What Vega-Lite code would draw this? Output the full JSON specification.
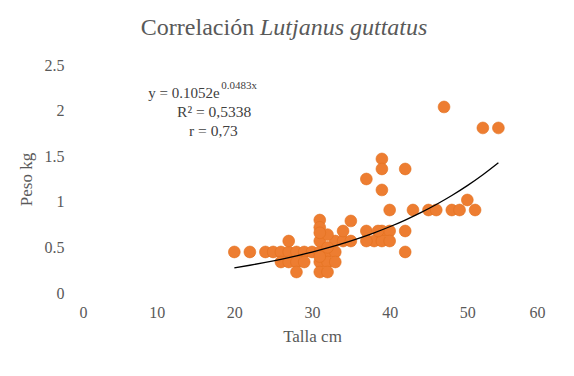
{
  "$schema": "https://vega.github.io/schema/vega-lite/v6.json",
  "width": 466,
  "height": 228,
  "autosize": "none",
  "padding": {"left": 79, "top": 65, "right": 29, "bottom": 83},
  "background": "white",
  "config": {
    "view": {"stroke": null},
    "font": "Liberation Serif",
    "style": {"guide-label": {"font": "Liberation Serif"}, "guide-title": {"font": "Liberation Serif"}},
    "axis": {"labelFont": "Liberation Serif", "titleFont": "Liberation Serif"}
  },
  "datasets": {
    "fish": [
      {"Talla": 20, "Peso": 0.45}, {"Talla": 22, "Peso": 0.45}, {"Talla": 24, "Peso": 0.45}, {"Talla": 25, "Peso": 0.45},
      {"Talla": 26, "Peso": 0.45}, {"Talla": 27, "Peso": 0.45}, {"Talla": 28, "Peso": 0.45}, {"Talla": 29, "Peso": 0.45},
      {"Talla": 30, "Peso": 0.45}, {"Talla": 31, "Peso": 0.45}, {"Talla": 32, "Peso": 0.45}, {"Talla": 33, "Peso": 0.45},
      {"Talla": 26, "Peso": 0.34}, {"Talla": 27, "Peso": 0.34}, {"Talla": 28, "Peso": 0.34}, {"Talla": 29, "Peso": 0.34},
      {"Talla": 31, "Peso": 0.34}, {"Talla": 32, "Peso": 0.34}, {"Talla": 33, "Peso": 0.34}, {"Talla": 31, "Peso": 0.4},
      {"Talla": 28, "Peso": 0.23}, {"Talla": 31, "Peso": 0.23}, {"Talla": 32, "Peso": 0.23},
      {"Talla": 27, "Peso": 0.57}, {"Talla": 31, "Peso": 0.57}, {"Talla": 33, "Peso": 0.57}, {"Talla": 32, "Peso": 0.5},
      {"Talla": 34, "Peso": 0.57}, {"Talla": 31, "Peso": 0.8}, {"Talla": 31, "Peso": 0.72}, {"Talla": 32, "Peso": 0.64},
      {"Talla": 31, "Peso": 0.66}, {"Talla": 34, "Peso": 0.68}, {"Talla": 35, "Peso": 0.79}, {"Talla": 35, "Peso": 0.57},
      {"Talla": 37, "Peso": 0.68}, {"Talla": 38, "Peso": 0.57}, {"Talla": 37, "Peso": 0.57}, {"Talla": 39, "Peso": 0.68},
      {"Talla": 40, "Peso": 0.68}, {"Talla": 39, "Peso": 0.57}, {"Talla": 40, "Peso": 0.57}, {"Talla": 38.5, "Peso": 0.68},
      {"Talla": 42, "Peso": 0.68}, {"Talla": 42, "Peso": 0.45},
      {"Talla": 37, "Peso": 1.25}, {"Talla": 39, "Peso": 1.47}, {"Talla": 39, "Peso": 1.36}, {"Talla": 42, "Peso": 1.36},
      {"Talla": 39, "Peso": 1.13},
      {"Talla": 40, "Peso": 0.91}, {"Talla": 43, "Peso": 0.91}, {"Talla": 45, "Peso": 0.91}, {"Talla": 46, "Peso": 0.91},
      {"Talla": 48, "Peso": 0.91}, {"Talla": 49, "Peso": 0.91}, {"Talla": 50, "Peso": 1.02}, {"Talla": 51, "Peso": 0.91},
      {"Talla": 47, "Peso": 2.04}, {"Talla": 52, "Peso": 1.81}, {"Talla": 54, "Peso": 1.81}
    ],
    "trend": [
      {"Talla": 20, "Peso": 0.2764}, {"Talla": 22, "Peso": 0.3044}, {"Talla": 24, "Peso": 0.3353},
      {"Talla": 26, "Peso": 0.3693}, {"Talla": 28, "Peso": 0.4068}, {"Talla": 30, "Peso": 0.448},
      {"Talla": 32, "Peso": 0.4935}, {"Talla": 34, "Peso": 0.5435}, {"Talla": 36, "Peso": 0.5986},
      {"Talla": 38, "Peso": 0.6594}, {"Talla": 40, "Peso": 0.7262}, {"Talla": 42, "Peso": 0.7999},
      {"Talla": 44, "Peso": 0.881}, {"Talla": 46, "Peso": 0.9703}, {"Talla": 48, "Peso": 1.0687},
      {"Talla": 50, "Peso": 1.1771}, {"Talla": 52, "Peso": 1.2965}, {"Talla": 54, "Peso": 1.428}
    ],
    "notes": [
      {"Talla": 22.55, "Peso": 2.829, "label": "Correlación", "kind": "title1"},
      {"Talla": 23.3, "Peso": 2.829, "label": "Lutjanus guttatus", "kind": "title2"},
      {"Talla": 8.92, "Peso": 2.138, "label": "y = 0.1052e", "kind": "eq"},
      {"Talla": 18.3, "Peso": 2.233, "label": "0.0483x", "kind": "sup"},
      {"Talla": 17.4, "Peso": 1.93, "label": "R² = 0,5338", "kind": "mid"},
      {"Talla": 17.3, "Peso": 1.72, "label": "r = 0,73", "kind": "mid"}
    ]
  },
  "encoding": {
    "x": {
      "field": "Talla", "type": "quantitative",
      "scale": {"domain": [0, 60], "nice": false, "zero": false},
      "axis": {
        "values": [0, 10, 20, 30, 40, 50, 60], "grid": false, "domain": false, "ticks": false, "tickSize": 0,
        "labelFont": "Liberation Serif", "labelFontSize": 16, "labelColor": "#595959", "labelPadding": 11,
        "title": "Talla cm", "titleFont": "Liberation Serif", "titleFontSize": 17, "titleFontWeight": "normal",
        "titleColor": "#595959", "titlePadding": 8
      }
    },
    "y": {
      "field": "Peso", "type": "quantitative",
      "scale": {"domain": [0, 2.5], "nice": false, "zero": false},
      "axis": {
        "values": [0, 0.5, 1, 1.5, 2, 2.5], "format": "~g", "grid": false, "domain": false, "ticks": false, "tickSize": 0,
        "labelFont": "Liberation Serif", "labelFontSize": 16, "labelColor": "#595959", "labelPadding": 15,
        "title": "Peso kg", "titleFont": "Liberation Serif", "titleFontSize": 17, "titleFontWeight": "normal",
        "titleColor": "#595959", "titlePadding": 9
      }
    }
  },
  "layer": [
    {
      "data": {"name": "fish"},
      "mark": {"type": "point", "filled": true, "shape": "circle", "size": 140, "color": "#ED7D31", "opacity": 1, "stroke": "#E2711F", "strokeWidth": 0.6}
    },
    {
      "data": {"name": "trend"},
      "mark": {"type": "line", "color": "#000000", "strokeWidth": 1.3, "interpolate": "monotone"}
    },
    {
      "data": {"name": "notes"},
      "transform": [{"filter": "datum.kind == 'title1'"}],
      "mark": {"type": "text", "align": "right", "baseline": "alphabetic", "font": "Liberation Serif", "fontSize": 24, "color": "#595959"},
      "encoding": {"text": {"field": "label"}}
    },
    {
      "data": {"name": "notes"},
      "transform": [{"filter": "datum.kind == 'title2'"}],
      "mark": {"type": "text", "align": "left", "baseline": "alphabetic", "font": "Liberation Serif", "fontSize": 24, "fontStyle": "italic", "color": "#595959"},
      "encoding": {"text": {"field": "label"}}
    },
    {
      "data": {"name": "notes"},
      "transform": [{"filter": "datum.kind == 'eq'"}],
      "mark": {"type": "text", "align": "left", "baseline": "alphabetic", "font": "Liberation Serif", "fontSize": 15, "color": "#404040"},
      "encoding": {"text": {"field": "label"}}
    },
    {
      "data": {"name": "notes"},
      "transform": [{"filter": "datum.kind == 'sup'"}],
      "mark": {"type": "text", "align": "left", "baseline": "alphabetic", "font": "Liberation Serif", "fontSize": 11, "color": "#404040"},
      "encoding": {"text": {"field": "label"}}
    },
    {
      "data": {"name": "notes"},
      "transform": [{"filter": "datum.kind == 'mid'"}],
      "mark": {"type": "text", "align": "center", "baseline": "alphabetic", "font": "Liberation Serif", "fontSize": 15.5, "color": "#404040"},
      "encoding": {"text": {"field": "label"}}
    }
  ]
}
